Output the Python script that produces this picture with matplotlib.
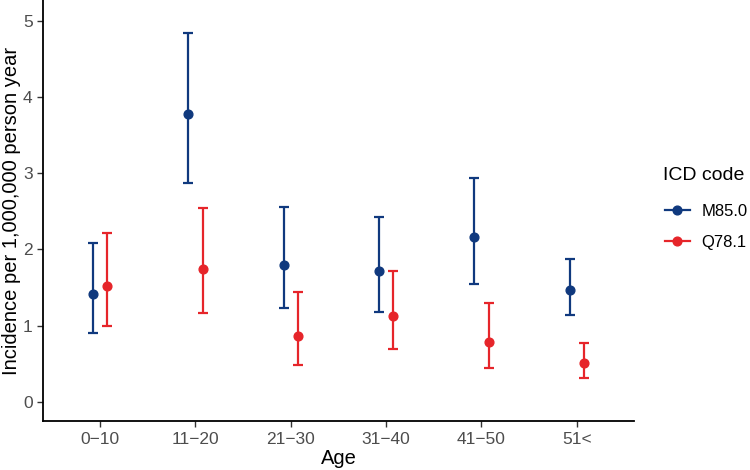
import matplotlib
matplotlib.use("Agg")
import matplotlib.pyplot as plt
from matplotlib.lines import Line2D
import numpy as np

plt.rcParams['font.family'] = ['Liberation Sans', 'DejaVu Sans']

ages = ["0\u221210", "11\u221220", "21\u221230", "31\u221240", "41\u221250", "51<"]

m85_est = [1.41, 3.77, 1.80, 1.72, 2.16, 1.47]
m85_low = [0.91, 2.87, 1.23, 1.18, 1.55, 1.14]
m85_high = [2.08, 4.84, 2.56, 2.43, 2.94, 1.87]

q78_est = [1.52, 1.75, 0.87, 1.13, 0.79, 0.51]
q78_low = [1.00, 1.17, 0.49, 0.70, 0.44, 0.32]
q78_high = [2.22, 2.54, 1.44, 1.72, 1.30, 0.77]

blue = "#10397e"
red = "#e6252a"

fig = plt.figure(figsize=(7.5, 4.7), dpi=100)
ax = fig.add_axes([0.0573, 0.104, 0.788, 0.896])

x = np.arange(1, len(ages) + 1)
dodge = 0.075

for est, lo, hi, col, off in [(m85_est, m85_low, m85_high, blue, -dodge),
                              (q78_est, q78_low, q78_high, red, dodge)]:
    est = np.array(est)
    yerr = [est - np.array(lo), np.array(hi) - est]
    ax.errorbar(x + off, est, yerr=yerr, fmt='o', color=col, ecolor=col,
                markersize=6.3, elinewidth=1.6, capsize=3.8, capthick=1.6)

ax.set_xlim(0.4, 6.6)
ax.set_ylim(-0.25, 5.27)
ax.set_xticks(x)
ax.set_xticklabels(ages)
ax.set_yticks([0, 1, 2, 3, 4, 5])

for s in ['top', 'right']:
    ax.spines[s].set_visible(False)
for s in ['left', 'bottom']:
    ax.spines[s].set_linewidth(1.3)
    ax.spines[s].set_color('black')
ax.tick_params(axis='both', colors='#333333', labelcolor='#4d4d4d',
               labelsize=12.5, length=4, width=1)

ax.set_xlabel("Age", fontsize=14.5, labelpad=2)
ax.set_ylabel("Incidence per 1,000,000 person year", fontsize=14.5)
ax.yaxis.set_label_coords(-0.037, 0.5)

# legend: title as separate text, entries below it
fig.text(0.884, 1 - 175 / 470, "ICD code", fontsize=14, va='center', ha='left')
handles = [Line2D([], [], color=blue, marker='o', markersize=6.3, linewidth=1.6),
           Line2D([], [], color=red, marker='o', markersize=6.3, linewidth=1.6)]
fig.legend(handles, ["M85.0", "Q78.1"], loc='upper left',
           bbox_to_anchor=(0.886, 1 - 204 / 470),
           frameon=False, fontsize=12,
           handlelength=1.5, handletextpad=0.7, labelspacing=0.95,
           borderpad=0, borderaxespad=0)

fig.savefig("out.png", dpi=100)
